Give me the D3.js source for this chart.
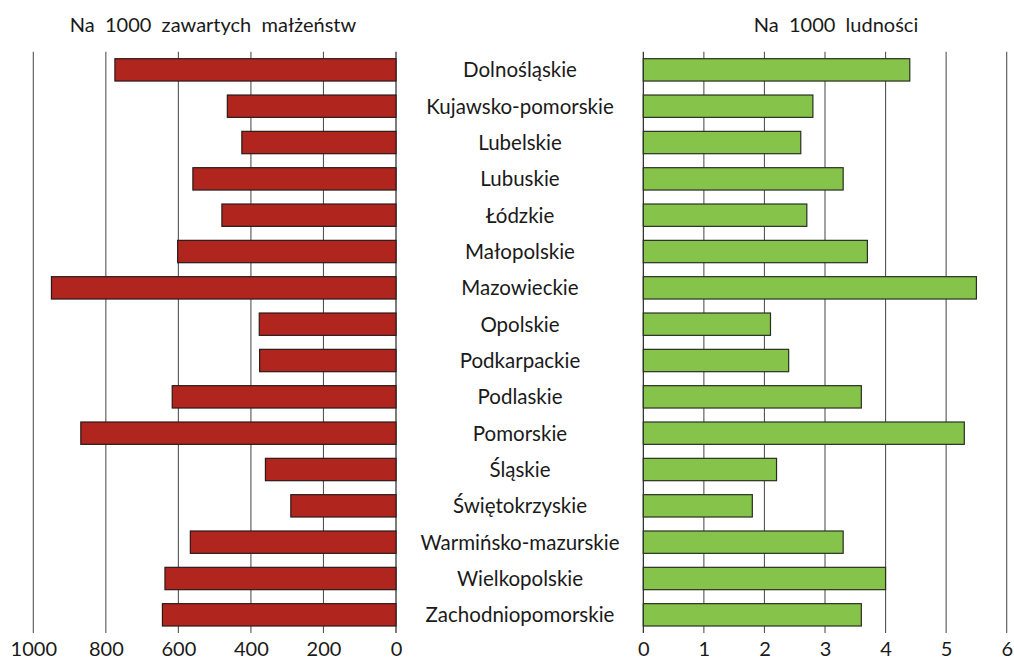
<!DOCTYPE html>
<html>
<head>
<meta charset="utf-8">
<script src="https://cdn.jsdelivr.net/npm/d3@7"></script>
<style>
    body { margin: 0; background: #fff; }
    text { font-family: Lato, "Open Sans", sans-serif; fill: #1a1a1a; }
</style>
</head>
<body>
<svg id="chart" width="1014" height="659"></svg>
<script>
// regions (voivodeships)
const regions = ["Dolnośląskie", "Kujawsko-pomorskie", "Lubelskie", "Lubuskie", "Łódzkie",
    "Małopolskie", "Mazowieckie", "Opolskie", "Podkarpackie", "Podlaskie", "Pomorskie",
    "Śląskie", "Świętokrzyskie", "Warmińsko-mazurskie", "Wielkopolskie", "Zachodniopomorskie"];

// divorces per 1000 marriages
const perMarriages = [775, 465, 425, 560, 480, 602, 950, 377, 376, 617, 869, 360, 290, 567, 637, 644];

// divorces per 1000 population
const perPopulation = [4.4, 2.8, 2.6, 3.3, 2.7, 3.7, 5.5, 2.1, 2.4, 3.6, 5.3, 2.2, 1.8, 3.3, 4.0, 3.6];

const leftTicks = [1000, 800, 600, 400, 200, 0];
const rightTicks = [0, 1, 2, 3, 4, 5, 6];

const leftTitle = "Na\u00a0 1000\u00a0 zawartych\u00a0 małżeństw";
const rightTitle = "Na\u00a0 1000\u00a0 ludności";

let svg = d3.select('#chart');

let yScale = d3.scaleBand()
    .domain(regions)
    .range([51.7, 633])
    .paddingInner(0.385)
    .paddingOuter(0.1925);

let xLeft = d3.scaleLinear().domain([1000, 0]).range([33.3, 396]);
let xRight = d3.scaleLinear().domain([0, 6]).range([643.3, 1006.7]);

// grid lines
svg.append('g')
    .selectAll('line')
    .data(leftTicks)
    .join('line')
    .attr('x1', d => xLeft(d)).attr('x2', d => xLeft(d))
    .attr('y1', 51.7).attr('y2', 633)
    .attr('stroke', d => d == 0 ? '#111' : '#555')
    .attr('stroke-width', 1.1);

svg.append('g')
    .selectAll('line')
    .data(rightTicks)
    .join('line')
    .attr('x1', d => xRight(d)).attr('x2', d => xRight(d))
    .attr('y1', 51.7).attr('y2', 633)
    .attr('stroke', d => d == 0 ? '#111' : '#555')
    .attr('stroke-width', 1.1);

// left bars
svg.append('g')
    .selectAll('rect')
    .data(regions)
    .join('rect')
    .attr('x', (d, i) => xLeft(perMarriages[i]))
    .attr('y', d => yScale(d))
    .attr('width', (d, i) => xLeft(0) - xLeft(perMarriages[i]))
    .attr('height', yScale.bandwidth())
    .attr('fill', '#b0251e')
    .attr('stroke', '#2b1a1a')
    .attr('stroke-width', 1.2);

// right bars
svg.append('g')
    .selectAll('rect')
    .data(regions)
    .join('rect')
    .attr('x', xRight(0))
    .attr('y', d => yScale(d))
    .attr('width', (d, i) => xRight(perPopulation[i]) - xRight(0))
    .attr('height', yScale.bandwidth())
    .attr('fill', '#86c34a')
    .attr('stroke', '#2a2f22')
    .attr('stroke-width', 1.2);

// category labels in the middle
svg.append('g')
    .selectAll('text')
    .data(regions)
    .join('text')
    .attr('x', 520)
    .attr('y', d => yScale(d) + yScale.bandwidth() / 2)
    .attr('dy', '0.36em')
    .attr('text-anchor', 'middle')
    .style('font-size', '20.5px')
    .text(d => d);

// x axes
let leftAxis = svg.append('g')
    .attr('transform', 'translate(0,633)')
    .call(d3.axisBottom(xLeft).tickValues(leftTicks).tickFormat(d3.format('d')).tickSize(0).tickPadding(9));
let rightAxis = svg.append('g')
    .attr('transform', 'translate(0,633)')
    .call(d3.axisBottom(xRight).tickValues(rightTicks).tickFormat(d3.format('d')).tickSize(0).tickPadding(9));

[leftAxis, rightAxis].forEach(ax => {
    ax.select('.domain').remove();
    ax.selectAll('.tick text')
        .style('font-size', '20px')
        .style('font-family', 'Lato, "Open Sans", sans-serif')
        .attr('fill', '#1a1a1a');
});

// titles
svg.append('text')
    .attr('x', 213)
    .attr('y', 32)
    .attr('text-anchor', 'middle')
    .style('font-size', '20px')
    .text(leftTitle);

svg.append('text')
    .attr('x', 836)
    .attr('y', 32)
    .attr('text-anchor', 'middle')
    .style('font-size', '20px')
    .text(rightTitle);
</script>
</body>
</html>
